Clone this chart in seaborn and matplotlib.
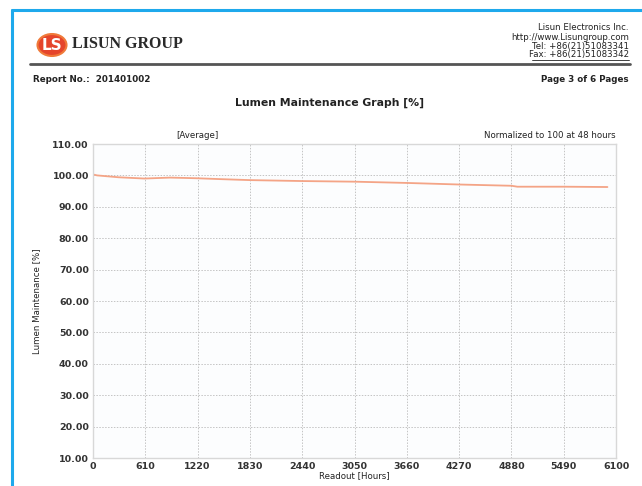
import numpy as np
import pandas as pd
import matplotlib
matplotlib.use("Agg")
import matplotlib.pyplot as plt
import seaborn as sns
from matplotlib.patches import Circle
from matplotlib.lines import Line2D

# ---------------------------
# Data
# ---------------------------
hours = [0, 48, 300, 600, 900, 1200, 1500, 1830, 2440, 3050, 3660, 4270, 4880, 4950, 5500, 6000]
lumen_pct = [100.3, 100.0, 99.4, 99.0, 99.3, 99.1, 98.8, 98.5, 98.2, 98.0, 97.6, 97.1, 96.7, 96.4, 96.4, 96.3]
x_ticks = [0, 610, 1220, 1830, 2440, 3050, 3660, 4270, 4880, 5490, 6100]
y_ticks = [10, 20, 30, 40, 50, 60, 70, 80, 90, 100, 110]

header_right = ["Lisun Electronics Inc.", "http://www.Lisungroup.com",
                "Tel: +86(21)51083341", "Fax: +86(21)51083342"]

W, H = 642, 486
LINE_COLOR = "#f4a486"
TEXT_COLOR = "#222222"

sns.set_style("white")
plt.rcParams["font.family"] = ["DejaVu Sans"]

df = pd.DataFrame({"hours": hours, "lumen": lumen_pct})

fig = plt.figure(figsize=(W / 100, H / 100), dpi=100)
fig.patch.set_facecolor("white")


def fx(px):
    return px / W


def fy(py):
    return 1 - py / H


# page border (blue scan frame)
fig.add_artist(Line2D([fx(12), fx(12)], [fy(10), 0], color="#1ea9ec", lw=2.2))
fig.add_artist(Line2D([fx(12), 1], [fy(10), fy(10)], color="#1ea9ec", lw=2.2))

# logo
fig.add_artist(Circle((fx(52), fy(45)), 14.5 / W, transform=fig.transFigure,
                      facecolor="#e5452c", edgecolor="#f07a3a", lw=1.5))
fig.text(fx(52), fy(45), "LS", color="white", fontsize=11, fontweight="bold",
         ha="center", va="center", family="DejaVu Sans")
fig.text(fx(72), fy(44), "LISUN GROUP", fontsize=11.5, fontweight="bold",
         family="Liberation Serif", color="#2a2a2a", va="center", ha="left")

# header on the right
for i, line in enumerate(header_right):
    fig.text(fx(629), fy(28 + 9 * i), line, fontsize=6.2, color=TEXT_COLOR,
             ha="right", va="center")
fig.add_artist(Line2D([fx(532), fx(629)], [fy(60), fy(60)], color=TEXT_COLOR, lw=0.6))

# rule under header
fig.add_artist(Line2D([fx(30), fx(630)], [fy(64), fy(64)], color="#555555", lw=2))

fig.text(fx(33), fy(79), "Report No.:  201401002", fontsize=6.3, fontweight="bold",
         color=TEXT_COLOR, ha="left", va="center")
fig.text(fx(629), fy(79), "Page 3 of 6 Pages", fontsize=6.3, fontweight="bold",
         color=TEXT_COLOR, ha="right", va="center")
fig.text(fx(330), fy(103), "Lumen Maintenance Graph [%]", fontsize=7.8, fontweight="bold",
         color=TEXT_COLOR, ha="center", va="center")

# chart
ax = fig.add_axes([fx(93), fy(458), fx(616 - 93), (458 - 144) / H])
ax.set_facecolor("#fcfdfe")
sns.lineplot(data=df, x="hours", y="lumen", ax=ax, color=LINE_COLOR, lw=1.3)

ax.set_xlim(0, 6100)
ax.set_ylim(10, 110)
ax.set_xticks(x_ticks)
ax.set_yticks(y_ticks)
ax.set_yticklabels([f"{v:.2f}" for v in y_ticks])
ax.tick_params(axis="both", labelsize=6.8, colors=TEXT_COLOR, length=0, pad=3)
for lbl in ax.get_xticklabels() + ax.get_yticklabels():
    lbl.set_fontweight("bold")
    lbl.set_color("#333333")
ax.grid(True, color="#c4c4c4", linestyle=(0, (1.5, 1.5)), lw=0.7)
for sp in ax.spines.values():
    sp.set_color("#d8d8d8")
    sp.set_linewidth(1)

ax.set_xlabel("Readout [Hours]", fontsize=6.2, color=TEXT_COLOR, labelpad=0)
ax.set_ylabel("Lumen Maintenance [%]", fontsize=6.2, color=TEXT_COLOR, labelpad=8)
ax.text(0.2, 1.012, "[Average]", transform=ax.transAxes, fontsize=6.2,
        color=TEXT_COLOR, ha="center", va="bottom")
ax.text(1.0, 1.012, "Normalized to 100 at 48 hours", transform=ax.transAxes, fontsize=6.2,
        color=TEXT_COLOR, ha="right", va="bottom")

fig.savefig("out.png", dpi=100)
